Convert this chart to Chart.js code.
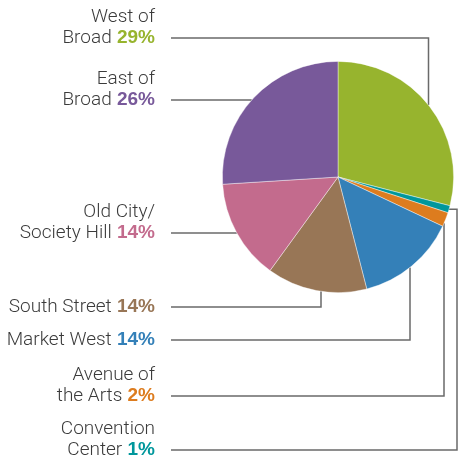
<!DOCTYPE html>
<html>
<head>
<meta charset="utf-8">
<script src="https://cdn.jsdelivr.net/npm/chart.js@4"></script>
<style>
  html, body { margin: 0; padding: 0; background: #fff; }
  #wrap { width: 458px; height: 459px; }
</style>
</head>
<body>
<div id="wrap"><canvas id="districtChart" width="458" height="459"></canvas></div>
<script>
// Share of total by district (%), clockwise from 12 o'clock
const categories = ['West of Broad', 'Convention Center', 'Avenue of the Arts', 'Market West', 'South Street', 'Old City/Society Hill', 'East of Broad'];
const shares = [29, 1, 2, 14, 14, 14, 26];
const labelLines = [['West of', 'Broad'], ['Convention', 'Center'], ['Avenue of', 'the Arts'], ['Market West'], ['South Street'], ['Old City/', 'Society Hill'], ['East of', 'Broad']];
const sliceColors = ['#97b42e', '#00979c', '#dd7c1e', '#3480b8', '#987656', '#c36b8d', '#78599a'];

// callout layout: leader y and optional elbow x for each category
const leaderY = [38, 450, 396, 340, 307, 233, 100];
const elbowX = [428.5, 457, 444, 410, 321, null, null];

document.addEventListener("DOMContentLoaded", function () {
    const textRight = 155;
    const lineStart = 171;
    const lineHeight = 21.5;

    const calloutPlugin = {
        id: 'callouts',
        beforeDatasetsDraw(chart) {
            const arc = chart.getDatasetMeta(0).data[0];
            if (!arc) return;
            const cx = arc.x, cy = arc.y, r = arc.outerRadius;
            const ctx = chart.ctx;
            ctx.save();
            ctx.strokeStyle = '#6a6a6a';
            ctx.lineWidth = 1.5;
            chart.getDatasetMeta(0).data.forEach((el, i) => {
                const y = leaderY[i];
                const ex = elbowX[i];
                ctx.beginPath();
                ctx.moveTo(lineStart, y);
                if (ex === null) {
                    const dx = Math.sqrt(Math.max(r * r - (y - cy) * (y - cy), 0));
                    ctx.lineTo(cx - dx, y);
                } else {
                    ctx.lineTo(ex, y);
                    if (Math.abs(ex - cx) < r) {
                        const dy = Math.sqrt(r * r - (ex - cx) * (ex - cx));
                        ctx.lineTo(ex, y < cy ? cy - dy : cy + dy);
                    } else {
                        const mid = (el.startAngle + el.endAngle) / 2;
                        const ay = cy + r * Math.sin(mid);
                        const ax = cx + Math.sqrt(Math.max(r * r - (ay - cy) * (ay - cy), 0));
                        ctx.lineTo(ex, ay);
                        ctx.lineTo(ax, ay);
                    }
                }
                ctx.stroke();
            });
            ctx.restore();
        },
        afterDraw(chart) {
            const ctx = chart.ctx;
            ctx.save();
            ctx.textAlign = 'right';
            ctx.textBaseline = 'alphabetic';
            categories.forEach((cat, i) => {
                const lines = labelLines[i];
                const base = leaderY[i] + 5;
                lines.forEach((txt, k) => {
                    const by = base - (lines.length - 1 - k) * lineHeight;
                    if (k === lines.length - 1) {
                        const pct = ' ' + shares[i] + '%';
                        ctx.font = 'bold 19px "Liberation Sans", Arial, sans-serif';
                        const pw = ctx.measureText(pct).width;
                        ctx.fillStyle = sliceColors[i];
                        ctx.fillText(pct, textRight, by);
                        ctx.font = '300 19px Roboto, "Liberation Sans", sans-serif';
                        ctx.fillStyle = '#3b3b3b';
                        ctx.fillText(txt, textRight - pw, by);
                    } else {
                        ctx.font = '300 19px Roboto, "Liberation Sans", sans-serif';
                        ctx.fillStyle = '#3b3b3b';
                        ctx.fillText(txt, textRight, by);
                    }
                });
            });
            ctx.restore();
        }
    };

    new Chart(document.getElementById('districtChart'), {
        type: 'pie',
        data: {
            labels: categories,
            datasets: [{
                data: shares,
                backgroundColor: sliceColors,
                borderColor: 'rgba(255,255,255,0.55)',
                borderWidth: 0.75
            }]
        },
        options: {
            responsive: false,
            animation: false,
            layout: { padding: { left: 222, right: 4, top: 61, bottom: 166 } },
            plugins: {
                legend: { display: false },
                tooltip: { enabled: false }
            }
        },
        plugins: [calloutPlugin]
    });
});
</script>
</body>
</html>
